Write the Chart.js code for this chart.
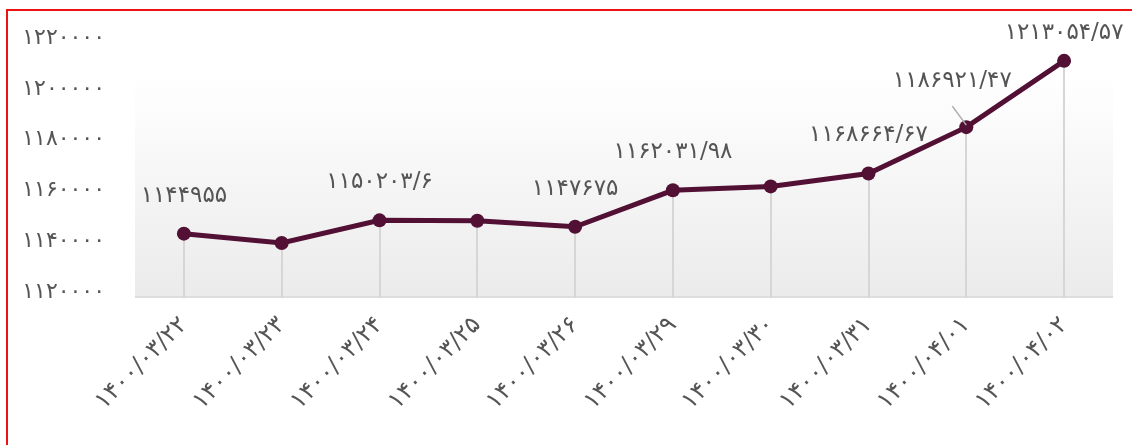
<!DOCTYPE html>
<html>
<head>
<meta charset="utf-8">
<script src="https://cdn.jsdelivr.net/npm/chart.js@4.4.1/dist/chart.umd.min.js"></script>
<style>
  html, body { margin: 0; padding: 0; background: #fff; overflow: hidden; }
  #wrap { position: relative; width: 1132px; height: 445px; }
  #frame { position: absolute; left: 6px; top: 9px; width: 1200px; height: 500px; border: 2px solid #ee1111; box-sizing: border-box; }
  #chart { position: absolute; left: 0; top: 0; }
</style>
</head>
<body>
<div id="wrap">
  <div id="frame"></div>
  <canvas id="chart" width="1132" height="445"></canvas>
</div>
<script>
// ===== data =====
const dates = ['۱۴۰۰/۰۳/۲۲', '۱۴۰۰/۰۳/۲۳', '۱۴۰۰/۰۳/۲۴', '۱۴۰۰/۰۳/۲۵', '۱۴۰۰/۰۳/۲۶',
  '۱۴۰۰/۰۳/۲۹', '۱۴۰۰/۰۳/۳۰', '۱۴۰۰/۰۳/۳۱', '۱۴۰۰/۰۴/۰۱', '۱۴۰۰/۰۴/۰۲'];
const indexValues = [1144955, 1141300, 1150203.6, 1150050, 1147675,
  1162031.98, 1163580, 1168664.67, 1186921.47, 1213054.57];
const showValue = [true, false, true, false, true, true, false, true, true, true];
const yMin = 1120000;
const yMax = 1220000;
const yStep = 20000;

const FONT = "'DejaVu Sans', sans-serif";
const LINE_COLOR = '#521035';
const TEXT_COLOR = '#555555';

// persian digits, "/" as decimal mark
function toFa(v) {
  return String(v).replace(/\d/g, d => '۰۱۲۳۴۵۶۷۸۹'[d]).replace('.', '/');
}

/* ===== background gradient + drop lines ===== */
const plotDecor = {
  id: 'plotDecor',
  beforeDatasetsDraw(chart) {
    const { ctx, chartArea } = chart;
    const top = chartArea.top + 33;
    const g = ctx.createLinearGradient(0, top, 0, chartArea.bottom);
    g.addColorStop(0, '#ffffff');
    g.addColorStop(1, '#ebebeb');
    ctx.save();
    ctx.fillStyle = g;
    ctx.fillRect(chartArea.left, top, chartArea.right - chartArea.left, chartArea.bottom - top);

    // baseline
    ctx.strokeStyle = '#dddddd';
    ctx.lineWidth = 2;
    ctx.beginPath();
    ctx.moveTo(chartArea.left, chartArea.bottom);
    ctx.lineTo(chartArea.right, chartArea.bottom);
    ctx.stroke();

    // vertical lines under each point
    const meta = chart.getDatasetMeta(0);
    ctx.strokeStyle = '#d6d6d6';
    ctx.lineWidth = 2;
    meta.data.forEach(pt => {
      ctx.beginPath();
      ctx.moveTo(Math.round(pt.x), pt.y);
      ctx.lineTo(Math.round(pt.x), chartArea.bottom + 1);
      ctx.stroke();
    });
    ctx.restore();
  }
};

/* ===== value labels above points ===== */
const valueLabels = {
  id: 'valueLabels',
  afterDatasetsDraw(chart) {
    const { ctx } = chart;
    const meta = chart.getDatasetMeta(0);
    ctx.save();
    ctx.font = '23px ' + FONT;
    ctx.fillStyle = TEXT_COLOR;
    ctx.textAlign = 'center';
    ctx.textBaseline = 'middle';
    meta.data.forEach((pt, i) => {
      if (!showValue[i]) return;
      let dx = 0, dy = -38;
      if (i === 8) {
        // pushed up-left with a small leader line
        dx = -14; dy = -46;
        ctx.strokeStyle = '#aaaaaa';
        ctx.lineWidth = 1.5;
        ctx.beginPath();
        ctx.moveTo(pt.x - 14, pt.y - 21);
        ctx.lineTo(pt.x, pt.y - 2);
        ctx.stroke();
      }
      if (i === meta.data.length - 1) dy = -28;
      ctx.fillText(toFa(indexValues[i]), pt.x + dx, pt.y + dy);
    });
    ctx.restore();
  }
};

const ctx = document.getElementById('chart');
new Chart(ctx, {
  type: 'line',
  data: {
    labels: dates,
    datasets: [{
      data: indexValues,
      borderColor: LINE_COLOR,
      backgroundColor: LINE_COLOR,
      borderWidth: 5,
      pointRadius: 7,
      pointHoverRadius: 7,
      pointBorderWidth: 0,
      tension: 0,
      fill: false
    }]
  },
  options: {
    responsive: false,
    animation: false,
    layout: { padding: { top: 42, right: 19, left: 0, bottom: 0 } },
    plugins: {
      legend: { display: false },
      tooltip: { enabled: false }
    },
    scales: {
      x: {
        offset: true,
        grid: { display: false, drawTicks: false },
        border: { display: false },
        ticks: {
          autoSkip: false,
          minRotation: 45,
          maxRotation: 45,
          padding: 14,
          color: TEXT_COLOR,
          font: { family: FONT, size: 24 }
        },
        afterFit(scale) { scale.height = 148; }
      },
      y: {
        min: yMin,
        max: yMax,
        grid: { display: false, drawTicks: false },
        border: { display: false },
        ticks: {
          stepSize: yStep,
          padding: 30,
          labelOffset: -5,
          color: TEXT_COLOR,
          font: { family: FONT, size: 22 },
          callback: v => toFa(v)
        },
        afterFit(scale) { scale.width = 135; }
      }
    }
  },
  plugins: [plotDecor, valueLabels]
});
</script>
</body>
</html>
